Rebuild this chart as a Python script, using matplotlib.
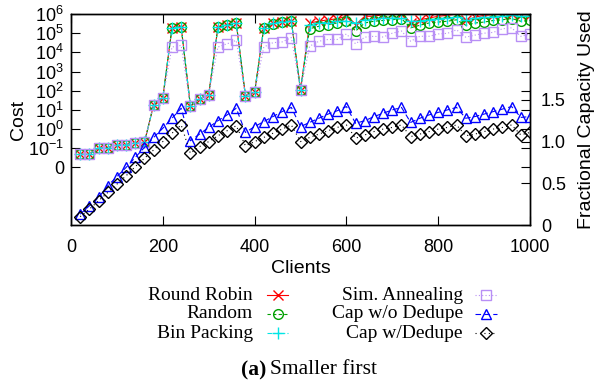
import matplotlib
matplotlib.use('Agg')
import matplotlib.pyplot as plt
from matplotlib.lines import Line2D

# clients on the x axis
clients = list(range(20, 1001, 20))

# cost series (left, log axis)
round_robin = [0.048, 0.048, 0.105, 0.105, 0.155, 0.155, 0.19, 0.2, 18.6, 41.7,
               1.9e5, 2.2e5, 16.6, 38, 62, 2.0e5, 2.8e5, 3.4e5, 55, 81,
               1.9e5, 3.2e5, 4.0e5, 4.4e5, 112,
               3.4e5, 4.2e5, 5.0e5, 5.6e5, 7.6e5, 2.8e5, 7.6e5, 7.6e5, 9.3e5, 1.0e6,
               1.0e6, 3.4e5, 5.0e5, 6.2e5, 7.6e5, 8.5e5, 1.0e6, 4.6e5, 6.8e5, 8.5e5,
               9.3e5, 1.0e6, 1.0e6, 9.3e5, 9.3e5]
random_ = [0.048, 0.048, 0.105, 0.105, 0.155, 0.155, 0.19, 0.2, 18.6, 41.7,
           1.85e5, 2.15e5, 16.6, 38, 62, 2.0e5, 2.7e5, 3.3e5, 55, 81,
           1.9e5, 3.1e5, 3.9e5, 4.2e5, 112,
           1.7e5, 2.3e5, 2.8e5, 3.4e5, 4.2e5, 1.3e5, 3.4e5, 4.2e5, 4.6e5, 5.0e5,
           5.8e5, 1.9e5, 2.6e5, 3.4e5, 3.8e5, 4.2e5, 5.0e5, 2.6e5, 3.4e5, 3.8e5,
           4.6e5, 5.0e5, 5.8e5, 4.2e5, 4.6e5]
bin_packing = [0.048, 0.048, 0.105, 0.105, 0.155, 0.155, 0.19, 0.2, 18.6, 41.7,
               1.9e5, 2.2e5, 16.6, 38, 62, 2.0e5, 2.8e5, 3.4e5, 55, 81,
               1.9e5, 3.2e5, 4.0e5, 4.3e5, 112,
               2.8e5, 3.4e5, 3.6e5, 4.2e5, 4.2e5, 3.4e5, 5.0e5, 5.2e5, 6.2e5, 6.2e5,
               6.2e5, 4.2e5, 4.2e5, 5.0e5, 5.8e5, 6.2e5, 6.8e5, 5.0e5, 6.2e5, 6.8e5,
               7.1e5, 7.6e5, 8.5e5, 7.6e5, 7.6e5]
sim_annealing = [0.048, 0.048, 0.105, 0.105, 0.155, 0.155, 0.19, 0.2, 18.6, 41.7,
                 1.9e4, 2.3e4, 16.6, 38, 62, 1.9e4, 2.8e4, 4.2e4, 55, 81,
                 1.9e4, 3.2e4, 3.5e4, 5.9e4, 112,
                 2.1e4, 3.8e4, 4.7e4, 4.7e4, 9.1e4, 2.8e4, 6.2e4, 6.9e4, 6.3e4, 1.0e5,
                 1.3e5, 3.8e4, 6.9e4, 6.9e4, 9.1e4, 9.8e4, 1.5e5, 6.2e4, 7.9e4, 1.0e5,
                 1.1e5, 1.7e5, 1.9e5, 6.9e4, 9.1e4]

# fractional capacity series (right axis)
cap_no_dedupe = [0.13, 0.23, 0.33, 0.47, 0.58, 0.69, 0.81, 0.93, 1.05, 1.16,
                 1.28, 1.40, 1.01, 1.09, 1.17, 1.25, 1.32, 1.40, 1.11, 1.18,
                 1.24, 1.30, 1.36, 1.41, 1.18, 1.23, 1.28, 1.33, 1.37, 1.42,
                 1.22, 1.25, 1.30, 1.34, 1.38, 1.41, 1.23, 1.28, 1.32, 1.35,
                 1.38, 1.41, 1.28, 1.30, 1.33, 1.36, 1.39, 1.42, 1.29, 1.30]
cap_dedupe = [0.10, 0.19, 0.29, 0.39, 0.49, 0.59, 0.70, 0.80, 0.90, 1.00,
              1.10, 1.20, 0.86, 0.94, 1.00, 1.07, 1.13, 1.19, 0.95, 1.00,
              1.05, 1.10, 1.15, 1.20, 1.00, 1.05, 1.09, 1.13, 1.17, 1.20,
              1.04, 1.08, 1.12, 1.15, 1.17, 1.20, 1.06, 1.09, 1.12, 1.15,
              1.17, 1.20, 1.07, 1.09, 1.12, 1.15, 1.17, 1.20, 1.08, 1.11]

labels = ['Round Robin', 'Random', 'Bin Packing',
          'Sim. Annealing', 'Cap w/o Dedupe', 'Cap w/Dedupe']

cost_ticks = [1e-2, 1e-1, 1e0, 1e1, 1e2, 1e3, 1e4, 1e5, 1e6]
cost_tick_labels = ['0', r'$10^{-1}$', r'$10^{0}$', r'$10^{1}$', r'$10^{2}$',
                    r'$10^{3}$', r'$10^{4}$', r'$10^{5}$', r'$10^{6}$']
cap_ticks = [0, 0.5, 1.0, 1.5]
cap_tick_labels = ['0', '0.5', '1.0', '1.5']
x_ticks = [0, 200, 400, 600, 800, 1000]

plt.rcParams['font.family'] = ['Liberation Sans', 'DejaVu Sans']
plt.rcParams['mathtext.fontset'] = 'custom'
plt.rcParams['mathtext.rm'] = 'Liberation Sans'
plt.rcParams['mathtext.it'] = 'Liberation Sans:italic'

# line styles, same order as labels
styles = [
    dict(color='#ff0000', ls='-', marker='x', ms=6.5, lw=0.8),
    dict(color='#00a000', ls=(0, (3, 2)), marker='o', ms=7, lw=0.8, mfc='none'),
    dict(color='#00e5e5', ls=(0, (4, 2, 1, 2)), marker='+', ms=8, lw=0.8),
    dict(color='#b88ff5', ls=(0, (1, 2)), marker='s', ms=7.5, lw=0.8, mfc='none'),
    dict(color='#0000ff', ls=(0, (5, 3)), marker='^', ms=7.5, lw=0.8, mfc='none'),
    dict(color='#000000', ls=(0, (1, 3)), marker='D', ms=6, lw=0.8, mfc='none'),
]

W, H = 594, 383
fig = plt.figure(figsize=(W / 100, H / 100), dpi=100)
ax = fig.add_axes([71 / W, 1 - 225 / H, 459 / W, 211 / H])
ax2 = ax.twinx()

for series, lab, st in zip([round_robin, random_, bin_packing, sim_annealing],
                           labels[:4], styles[:4]):
    ax.plot(clients, series, label=lab, mew=1.0, **st)
for series, lab, st in zip([cap_no_dedupe, cap_dedupe], labels[4:], styles[4:]):
    ax2.plot(clients, series, label=lab, mew=1.0, **st)

ax.set_yscale('log')
ax.set_ylim(1e-5, 1e6)
ax.set_xlim(0, 1000)
ax.set_yticks(cost_ticks)
ax.set_yticklabels(cost_tick_labels)
ax.yaxis.set_minor_locator(matplotlib.ticker.NullLocator())
ax.set_xticks(x_ticks)
ax.tick_params(which='both', direction='in', length=6.5, width=0.8,
               top=True, right=True, labelright=False, labelsize=13)
ax.tick_params(axis='x', pad=10)
ax.tick_params(axis='y', pad=5)

ax2.set_ylim(0, 2.53)
ax2.set_yticks(cap_ticks)
ax2.set_yticklabels(cap_tick_labels)
ax2.tick_params(direction='in', length=6.5, width=0.8, labelsize=13, pad=8)

for a in (ax, ax2):
    for sp in a.spines.values():
        sp.set_linewidth(1.0)

ax.set_xlabel('Clients', fontsize=14, labelpad=3)
ax.set_ylabel('Cost', fontsize=14, labelpad=1)
ax2.set_ylabel('Fractional Capacity Used', fontsize=14, labelpad=8.5)

# gnuplot-style key under the plot: text right aligned, then the sample
text_right = [253, 463]
sample_x = [(267, 288), (475, 497)]
rows_y = [295, 314, 333]
for i, (lab, st) in enumerate(zip(labels, styles)):
    col, row = i // 3, i % 3
    y = 1 - rows_y[row] / H
    fig.text(text_right[col] / W, y, lab, ha='right', va='center',
             fontsize=14, family='Liberation Serif')
    x0, x1 = sample_x[col]
    fig.add_artist(Line2D([x0 / W, x1 / W], [y, y], transform=fig.transFigure,
                          color=st['color'], ls=st['ls'], lw=st['lw']))
    mk = {k: v for k, v in st.items() if k not in ('ls', 'lw')}
    fig.add_artist(Line2D([(x0 + x1) / 2 / W], [y], transform=fig.transFigure,
                          ls='none', mew=1.0, **mk))

fig.text(266 / W, 1 - 370 / H, '(a)', ha='right', va='center',
         fontsize=15.5, family='Liberation Serif', weight='bold')
fig.text(270 / W, 1 - 370 / H, 'Smaller first', ha='left', va='center',
         fontsize=15.5, family='Liberation Serif')

fig.savefig('out.png', dpi=100)
